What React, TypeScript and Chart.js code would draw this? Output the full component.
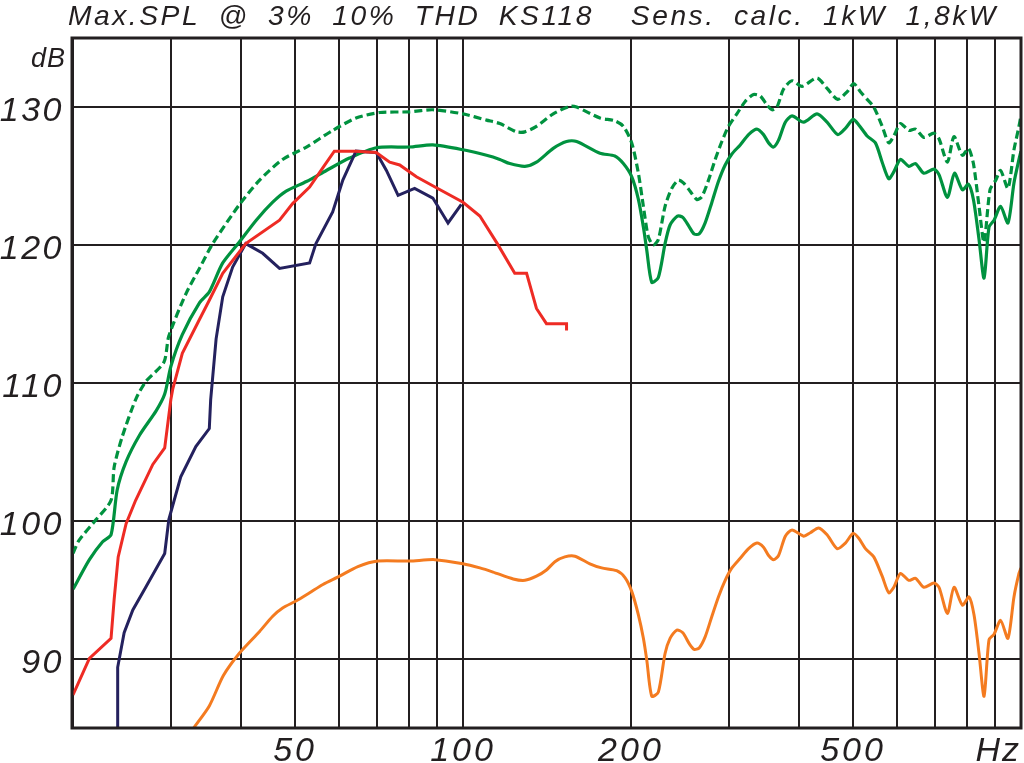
import React, { useEffect, useRef } from "react";
import { Chart, registerables } from "chart.js";

Chart.register(...registerables);

// ---------- texts ----------
const titleText = "Max.SPL @ 3% 10% THD KS118  Sens. calc. 1kW 1,8kW";
const yUnit = "dB";
const xUnit = "Hz";

// ---------- axes ----------
const xMin = 20;
const xMax = 1000;
const yMin = 85;
const yMax = 135;
const xGridValues = [20, 30, 40, 50, 60, 70, 80, 90, 100, 200, 300, 400, 500, 600, 700, 800, 900, 1000];
const xLabelValues = [50, 100, 200, 500];
const yGridValues = [90, 100, 110, 120, 130];

// ---------- series: sensitivity (orange) ----------
const sensFreq = [32.9, 35.1, 37.2, 39.7, 43.2, 45.6, 47.5, 50.2, 53.1, 56.1, 60.1, 64.8, 70.4, 80.2, 89.0, 100, 107.2, 113.2, 123.0, 129.1, 135.4, 141.1, 146.1, 152.2, 158.7, 168.8, 177.2, 188.5, 195.1, 200.6, 206.2, 210.5, 213.5, 217.9, 223.9, 230.2, 235.0, 241.6, 247.7, 254.5, 259.5, 265.0, 271.6, 279.3, 286.9, 295.0, 303.3, 313.9, 324.9, 336.3, 345.6, 352.9, 360.2, 367.7, 378.1, 388.7, 407.8, 419.2, 433.8, 449.2, 468.2, 484.5, 500.2, 512.0, 526.3, 544.7, 563.9, 579.4, 591.6, 608.1, 629.4, 647.1, 669.7, 698.2, 712.9, 738.1, 758.4, 785.2, 806.9, 823.7, 841.0, 858.6, 876.4, 894.8, 919.3, 947.6, 971.4, 991.7, 1000];
const sensDb = [85.0, 86.6, 88.8, 90.4, 92.0, 93.1, 93.7, 94.2, 94.8, 95.4, 96.0, 96.7, 97.1, 97.1, 97.2, 96.9, 96.6, 96.3, 95.8, 95.7, 96.0, 96.45, 97.05, 97.4, 97.45, 96.9, 96.6, 96.4, 95.9, 94.9, 93.2, 91.5, 89.9, 87.3, 87.6, 90.4, 91.5, 92.1, 91.9, 91.1, 90.7, 90.8, 91.6, 93.1, 94.5, 95.7, 96.6, 97.3, 98.0, 98.4, 98.1, 97.5, 97.2, 97.5, 98.9, 99.35, 98.9, 99.15, 99.5, 99.0, 98.0, 98.4, 99.1, 98.75, 98.0, 97.4, 96.0, 94.8, 95.2, 96.2, 95.7, 95.85, 95.2, 95.5, 95.2, 93.3, 95.2, 93.9, 94.5, 93.2, 90.4, 87.3, 91.4, 91.8, 92.8, 91.5, 94.5, 96.2, 96.6];

// ---------- series: 1 kW (green solid) ----------
const kw1Freq = [20, 21.4, 22.6, 23.4, 24.0, 24.9, 26.3, 28.2, 29.2, 29.95, 31.4, 33.7, 35.1, 37.1, 39.7, 42.6, 45.6, 48.2, 52.4, 56.9, 62.6, 69.9, 80.2, 88.3, 100, 110.2, 116.4, 121.3, 129.1, 135.4, 145.1, 153.3, 159.8, 176, 187.1, 193.8, 200.6, 206.2, 210.5, 213.5, 217.9, 223.9, 230.2, 235.0, 242.2, 247.7, 254.5, 259.5, 265, 271.6, 279.3, 286.9, 295, 303.3, 313.9, 324.9, 336.3, 345.6, 352.9, 360.2, 367.7, 378.1, 388.7, 407.8, 431.0, 449.2, 469.4, 484.5, 500.2, 512.0, 530, 548.4, 563.9, 579.4, 591.6, 608.1, 629.4, 647.1, 669.7, 698.2, 712.9, 738.1, 760, 785.2, 805, 821.7, 841, 858.6, 876.4, 894.8, 919.3, 947.6, 971.4, 991.7, 1000];
const kw1Db = [95.05, 97.2, 98.5, 99.0, 102.25, 104.3, 106.2, 108.0, 109.2, 111.2, 113.5, 115.8, 116.6, 118.7, 120.2, 121.8, 123.1, 123.9, 124.6, 125.4, 126.3, 127.05, 127.1, 127.25, 126.9, 126.5, 126.2, 125.9, 125.7, 126.0, 127.0, 127.5, 127.5, 126.65, 126.45, 125.9, 124.95, 123.3, 121.3, 119.6, 117.3, 117.65, 120.1, 121.45, 122.1, 122.0, 121.3, 120.8, 120.8, 121.6, 123.1, 124.6, 125.8, 126.6, 127.25, 128.0, 128.4, 128.0, 127.4, 127.1, 127.6, 128.9, 129.35, 128.9, 129.5, 128.9, 128.0, 128.45, 129.1, 128.7, 127.9, 127.4, 126.0, 124.8, 125.3, 126.2, 125.7, 125.9, 125.2, 125.5, 125.1, 123.45, 125.2, 124.0, 124.4, 123.3, 120.4, 117.6, 121.3, 121.8, 122.8, 121.6, 124.5, 126.2, 126.8];

// ---------- series: 1.8 kW (green dashed) ----------
const kw18Freq = [20, 20.5, 22.0, 23.4, 23.7, 24.5, 25.9, 27.0, 29.1, 29.7, 31.9, 33.7, 35.6, 39.7, 43.2, 47.5, 52.4, 58.4, 64.3, 70.9, 80.2, 88.3, 100, 110.2, 116.4, 124.7, 129.1, 135.4, 145.1, 155.4, 159.8, 176, 187.1, 193.8, 200.6, 206.2, 210.5, 214.8, 219.3, 223.9, 230.2, 236.6, 243.2, 248.3, 255.3, 262.4, 267.9, 275.4, 283.1, 291.0, 299.1, 309.6, 320.4, 331.6, 340.9, 350.5, 357.9, 365.3, 375.4, 388.7, 405.1, 431.0, 449.2, 469.4, 487.9, 501.4, 515.5, 530, 544.7, 563.9, 579.4, 591.6, 608.1, 629.4, 647.1, 669.7, 698.2, 712.9, 738.1, 758.4, 785.2, 805, 821.7, 841, 858.6, 880, 901.1, 919.3, 947.6, 971.4, 991.7, 1000];
const kw18Db = [97.65, 98.6, 100.1, 101.5, 103.9, 106.1, 108.8, 110.1, 111.5, 113.4, 116.5, 118.3, 120.1, 122.9, 124.7, 126.2, 127.1, 128.3, 129.2, 129.6, 129.65, 129.8, 129.5, 129.05, 128.8, 128.2, 128.2, 128.6, 129.5, 130.05, 130.0, 129.2, 129.0, 128.6, 127.4, 125.2, 122.8, 120.6, 120.0, 120.4, 122.8, 124.1, 124.7, 124.5, 123.9, 123.3, 123.5, 124.7, 126.2, 127.5, 128.6, 129.5, 130.4, 130.9, 130.8, 130.15, 129.8, 130.0, 131.3, 131.9, 131.5, 132.1, 131.35, 130.55, 131.1, 131.7, 131.1, 130.55, 130.0, 128.6, 127.4, 127.9, 128.8, 128.3, 128.4, 127.8, 128.1, 127.7, 126.0, 127.85, 126.5, 127.0, 125.9, 122.8, 120.2, 124.0, 124.7, 125.4, 124.1, 126.9, 128.6, 129.4];

// ---------- series: max SPL @ 10% THD (red) ----------
const thd10Freq = [20, 21.4, 23.4, 23.7, 24.1, 24.9, 25.9, 27.8, 29.2, 29.95, 30.2, 31.4, 33.7, 35.1, 37.1, 40.8, 46.9, 49.5, 53.1, 56.1, 58.8, 64.3, 69.9, 73.9, 77.0, 82.5, 89.6, 100, 107.2, 115.2, 123.8, 130.0, 135.4, 141.1, 153.3, 153.3];
const thd10Db = [87.4, 90.05, 91.5, 94.3, 97.4, 99.8, 101.5, 104.1, 105.3, 108.8, 109.6, 112.15, 114.6, 116.0, 117.95, 120.1, 121.8, 123.0, 124.2, 125.6, 126.8, 126.8, 126.7, 126.0, 125.8, 124.95, 124.15, 123.1, 122.1, 120.1, 117.95, 117.95, 115.4, 114.3, 114.3, 113.8];

// ---------- series: max SPL @ 3% THD (navy) ----------
const thd3Freq = [24.0, 24.05, 24.7, 25.6, 27.0, 29.2, 29.7, 31.2, 33.2, 35.1, 35.3, 36.1, 37.1, 38.65, 40.8, 43.75, 46.9, 53.1, 54.5, 58.4, 60.9, 64.3, 69.9, 72.9, 76.5, 81.9, 88.3, 94.0, 99.3];
const thd3Db = [84.0, 89.4, 91.9, 93.55, 95.2, 97.65, 100.1, 103.2, 105.4, 106.7, 108.8, 113.2, 116.25, 118.4, 120.1, 119.4, 118.3, 118.7, 120.1, 122.4, 124.7, 126.8, 126.7, 125.4, 123.6, 124.1, 123.4, 121.6, 122.95];

// ---------- styles ----------
const inkColor = "#231f20";
const greenColor = "#00923f";
const redColor = "#ee2b24";
const navyColor = "#24215e";
const orangeColor = "#f47b20";

function pairs(xs: number[], ys: number[]) {
  return xs.map((x, i) => ({ x, y: ys[i] }));
}

const labelsPlugin = {
  id: "labelsPlugin",
  afterDraw(chart: any) {
    const { ctx, chartArea, scales } = chart;
    const xs = scales.x;
    const ys = scales.y;
    ctx.save();
    // frame
    ctx.strokeStyle = inkColor;
    ctx.lineWidth = 3;
    ctx.strokeRect(chartArea.left - 1, chartArea.top, chartArea.right - chartArea.left + 1, chartArea.bottom - chartArea.top);

    ctx.fillStyle = inkColor;
    // title
    ctx.font = 'italic 28px "Liberation Sans"';
    (ctx as any).letterSpacing = "2.5px";
    (ctx as any).wordSpacing = "8px";
    ctx.textAlign = "left";
    ctx.textBaseline = "alphabetic";
    const tw = ctx.measureText(titleText).width;
    const sx = Math.min(1.2, Math.max(0.8, 930 / tw));
    ctx.save();
    ctx.translate(68, 25);
    ctx.scale(sx, 1);
    ctx.fillText(titleText, 0, 0);
    ctx.restore();
    (ctx as any).wordSpacing = "0px";

    // dB unit
    ctx.font = 'italic 27px "Liberation Sans"';
    (ctx as any).letterSpacing = "1px";
    ctx.textAlign = "right";
    ctx.fillText(yUnit, 66, 67);

    // y labels
    ctx.font = 'italic 34px "Liberation Sans"';
    (ctx as any).letterSpacing = "2.5px";
    ctx.textAlign = "right";
    for (const v of yGridValues) {
      const y = ys.getPixelForValue(v);
      ctx.fillText(String(v), 64, y + 14);
    }

    // x labels
    ctx.textAlign = "center";
    (ctx as any).letterSpacing = "3px";
    for (const v of xLabelValues) {
      const x = xs.getPixelForValue(v);
      ctx.fillText(String(v), x, 761);
    }
    ctx.textAlign = "right";
    (ctx as any).letterSpacing = "2px";
    ctx.fillText(xUnit, xs.getPixelForValue(xMax), 761);
    ctx.restore();
  },
};

export default function App() {
  const canvasRef = useRef<HTMLCanvasElement | null>(null);

  useEffect(() => {
    const canvas = canvasRef.current;
    if (!canvas) return;
    const chart = new Chart(canvas, {
      type: "line",
      data: {
        datasets: [
          {
            label: "10% THD",
            data: pairs(thd10Freq, thd10Db),
            borderColor: redColor,
            borderWidth: 3,
            pointRadius: 0,
            tension: 0,
          },
          {
            label: "3% THD",
            data: pairs(thd3Freq, thd3Db),
            borderColor: navyColor,
            borderWidth: 3,
            pointRadius: 0,
            tension: 0,
          },
          {
            label: "1kW",
            data: pairs(kw1Freq, kw1Db),
            borderColor: greenColor,
            borderWidth: 3.2,
            pointRadius: 0,
            tension: 0.25,
          },
          {
            label: "1,8kW",
            data: pairs(kw18Freq, kw18Db),
            borderColor: greenColor,
            borderWidth: 3.2,
            borderDash: [8, 4],
            pointRadius: 0,
            tension: 0.25,
          },
          {
            label: "Sens.",
            data: pairs(sensFreq, sensDb),
            borderColor: orangeColor,
            borderWidth: 3,
            pointRadius: 0,
            tension: 0.25,
          },
        ],
      },
      options: {
        responsive: false,
        animation: false,
        devicePixelRatio: 1,
        layout: { padding: { left: 73, right: 3, top: 38, bottom: 35 } },
        plugins: {
          legend: { display: false },
          tooltip: { enabled: false },
          title: { display: false },
        },
        scales: {
          x: {
            type: "logarithmic",
            min: xMin,
            max: xMax,
            afterBuildTicks: (scale: any) => {
              scale.ticks = xGridValues.map((v) => ({ value: v }));
            },
            ticks: { display: false },
            grid: { color: inkColor, lineWidth: 2, drawTicks: false },
            border: { display: false },
          },
          y: {
            type: "linear",
            min: yMin,
            max: yMax,
            afterBuildTicks: (scale: any) => {
              scale.ticks = yGridValues.map((v) => ({ value: v }));
            },
            ticks: { display: false },
            grid: { color: inkColor, lineWidth: 2, drawTicks: false },
            border: { display: false },
          },
        },
      },
      plugins: [labelsPlugin],
    });
    return () => chart.destroy();
  }, []);

  return (
    <div style={{ position: "absolute", left: 0, top: 0, width: 1024, height: 763, background: "#ffffff" }}>
      <canvas ref={canvasRef} width={1024} height={763} style={{ display: "block", width: 1024, height: 763 }} />
    </div>
  );
}
